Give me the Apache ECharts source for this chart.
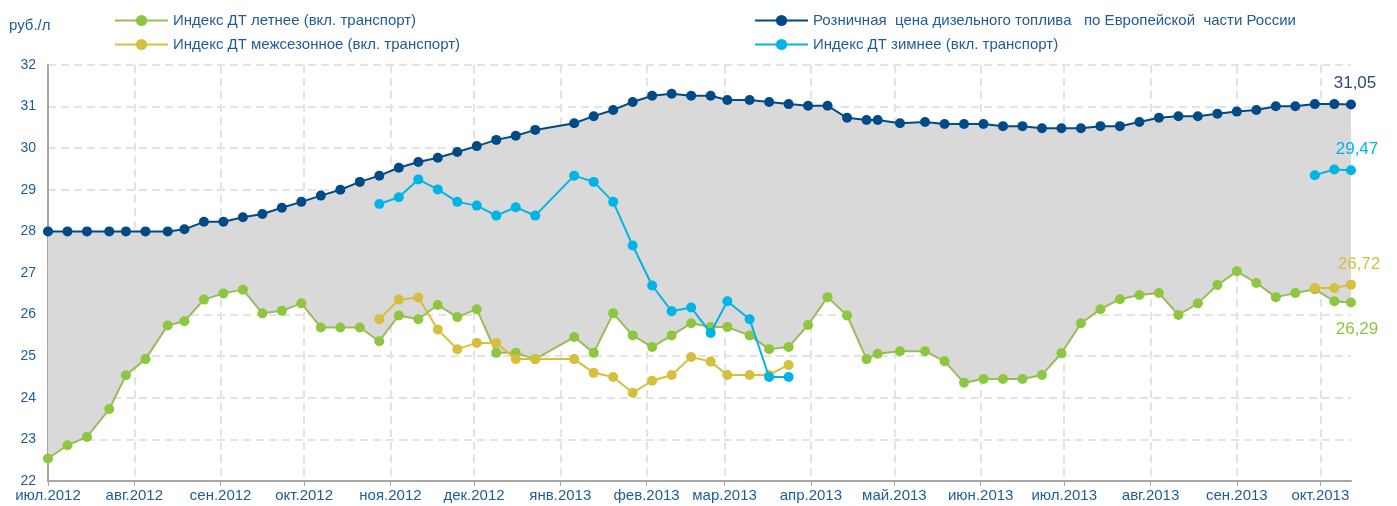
<!DOCTYPE html>
<html>
<head>
<meta charset="utf-8">
<script src="https://cdn.jsdelivr.net/npm/echarts@6/dist/echarts.min.js"></script>
<style>html,body{margin:0;padding:0;background:#fff}#c{width:1397px;height:506px}</style>
</head>
<body>
<div id="c"></div>
<script>
const dates = ['2012-07-01','2012-07-08','2012-07-15','2012-07-23','2012-07-29','2012-08-05','2012-08-13','2012-08-19','2012-08-26','2012-09-02','2012-09-09','2012-09-16','2012-09-23','2012-09-30','2012-10-07','2012-10-14','2012-10-21','2012-10-28','2012-11-04','2012-11-11','2012-11-18','2012-11-25','2012-12-02','2012-12-09','2012-12-16','2012-12-23','2013-01-06','2013-01-13','2013-01-20','2013-01-27','2013-02-03','2013-02-10','2013-02-17','2013-02-24','2013-03-02','2013-03-10','2013-03-17','2013-03-24','2013-03-31','2013-04-07','2013-04-14','2013-04-21','2013-04-25','2013-05-03','2013-05-12','2013-05-19','2013-05-26','2013-06-02','2013-06-09','2013-06-16','2013-06-23','2013-06-30','2013-07-07','2013-07-14','2013-07-21','2013-07-28','2013-08-04','2013-08-11','2013-08-18','2013-08-25','2013-09-01','2013-09-08','2013-09-15','2013-09-22','2013-09-29','2013-10-06','2013-10-12'];

const retail = [28.00,28.00,28.00,28.00,28.00,28.00,28.00,28.05,28.23,28.23,28.34,28.42,28.57,28.71,28.86,29.00,29.19,29.34,29.53,29.67,29.77,29.91,30.05,30.20,30.30,30.44,30.60,30.77,30.92,31.11,31.26,31.31,31.26,31.26,31.16,31.16,31.11,31.06,31.02,31.02,30.73,30.68,30.68,30.60,30.63,30.58,30.58,30.58,30.53,30.53,30.48,30.48,30.48,30.53,30.53,30.63,30.73,30.77,30.77,30.83,30.88,30.92,31.01,31.01,31.06,31.06,31.05];

const summer = [22.54,22.86,23.06,23.73,24.54,24.93,25.74,25.84,26.36,26.51,26.60,26.03,26.09,26.27,25.69,25.69,25.69,25.36,25.98,25.89,26.23,25.94,26.13,25.08,25.08,24.93,25.46,25.08,26.03,25.50,25.22,25.50,25.79,25.70,25.70,25.50,25.17,25.22,25.75,26.42,25.98,24.93,25.06,25.12,25.12,24.88,24.36,24.45,24.45,24.45,24.55,25.07,25.79,26.13,26.37,26.47,26.52,25.99,26.27,26.71,27.04,26.76,26.42,26.52,26.61,26.32,26.29];

const N = null;
const offseason = [N,N,N,N,N,N,N,N,N,N,N,N,N,N,N,N,N,25.89,26.36,26.41,25.64,25.17,25.32,25.32,24.93,24.93,24.93,24.60,24.50,24.12,24.41,24.55,24.98,24.87,24.55,24.55,24.55,24.79,N,N,N,N,N,N,N,N,N,N,N,N,N,N,N,N,N,N,N,N,N,N,N,N,N,N,26.64,26.64,26.72];

const winter = [N,N,N,N,N,N,N,N,N,N,N,N,N,N,N,N,N,28.66,28.82,29.25,29.01,28.71,28.62,28.38,28.58,28.38,29.34,29.19,28.71,27.66,26.70,26.08,26.17,25.56,26.32,25.89,24.50,24.50,N,N,N,N,N,N,N,N,N,N,N,N,N,N,N,N,N,N,N,N,N,N,N,N,N,N,29.35,29.49,29.47];

const monthNames = ['янв','фев','мар','апр','май','июн','июл','авг','сен','окт','ноя','дек'];
const yTicks = [22,23,24,25,26,27,28,29,30,31,32];

const names = {
  summer: 'Индекс ДТ летнее (вкл. транспорт)',
  off: 'Индекс ДТ межсезонное (вкл. транспорт)',
  retail: 'Розничная  цена дизельного топлива   по Европейской  части России',
  winter: 'Индекс ДТ зимнее (вкл. транспорт)'
};

const txt = '#1F5B98';
const fmt = v => v.toFixed(2).replace('.', ',');

function build(vals, lbl) {
  const last = vals.length - 1;
  return vals.map((v, i) => {
    if (v === null) return [dates[i], null];
    if (i === last && lbl) return { value: [dates[i], v], label: lbl };
    return [dates[i], v];
  });
}

function lineSeries(name, vals, color, lineColor, lbl, z) {
  return {
    name: name, type: 'line', data: build(vals, lbl), z: z,
    symbol: 'circle', symbolSize: 10, showSymbol: true,
    connectNulls: false,
    itemStyle: { color: color },
    lineStyle: { color: lineColor, width: 2 },
    emphasis: { disabled: true },
    animation: false
  };
}

const chart = echarts.init(document.getElementById('c'), null, { renderer: 'canvas' });
const legendText = { fontSize: 15, color: txt, fontFamily: 'Liberation Sans', lineHeight: 15 };

chart.setOption({
  animation: false,
  title: { text: 'руб./л', left: 9, top: 18, padding: 0, textStyle: { fontSize: 15, fontWeight: 'normal', color: txt, fontFamily: 'Liberation Sans' } },
  legend: [
    { orient: 'vertical', left: 114, top: 13, padding: 0, itemWidth: 53, itemHeight: 14, itemGap: 9, textStyle: legendText, data: [names.summer, names.off], selectedMode: false },
    { orient: 'vertical', left: 754, top: 13, padding: 0, itemWidth: 53, itemHeight: 14, itemGap: 9, textStyle: legendText, data: [names.retail, names.winter], selectedMode: false }
  ],
  grid: { left: 48, right: 46, top: 65, bottom: 25, containLabel: false, outerBoundsMode: 'none' },
  xAxis: {
    type: 'time', z: 0,
    min: '2012-07-01', max: '2013-10-12',
    minInterval: 28 * 86400000, maxInterval: 31 * 86400000,
    axisLine: { show: true, lineStyle: { color: '#A6A6A6', width: 2 } },
    axisTick: { show: true, length: 5, lineStyle: { color: '#A6A6A6', width: 1 } },
    axisLabel: {
      color: txt, fontSize: 15, fontFamily: 'Liberation Sans', margin: 7,
      showMaxLabel: false,
      formatter: function (val) { const d = new Date(val); return monthNames[d.getMonth()] + '.' + d.getFullYear(); }
    },
    splitLine: { show: true, showMaxLine: false, lineStyle: { color: '#E3E3E3', width: 2, type: [8, 5] } }
  },
  yAxis: {
    type: 'value', z: 0, min: yTicks[0], max: yTicks[yTicks.length - 1], interval: 1,
    axisLine: { show: true, lineStyle: { color: '#A6A6A6', width: 2 } },
    axisTick: { show: false },
    axisLabel: { color: txt, fontSize: 14, fontFamily: 'Liberation Sans', margin: 12 },
    splitLine: { show: true, lineStyle: { color: '#E3E3E3', width: 2, type: [8, 5] } }
  },
  series: [
    {
      name: 'band', type: 'custom', silent: true, z: 2,
      data: [[dates[0], retail[0]]],
      renderItem: function (params, api) {
        const pts = [];
        for (let i = 0; i < dates.length; i++) pts.push(api.coord([+new Date(dates[i]), retail[i]]));
        for (let i = dates.length - 1; i >= 0; i--) pts.push(api.coord([+new Date(dates[i]), summer[i]]));
        return { type: 'polygon', shape: { points: pts }, style: { fill: '#D9D9D9', opacity: 1 } };
      }
    },
    lineSeries(names.summer, summer, '#8DC63F', '#9BBB59',
      { show: true, position: 'bottom', distance: 13, offset: [6, 0], fontSize: 17, fontFamily: 'Liberation Sans', color: '#8DC63F', formatter: p => fmt(p.value[1]) }, 3),
    lineSeries(names.off, offseason, '#D6BF3C', '#D6BF3C',
      { show: true, position: 'top', distance: 7, offset: [8, 0], fontSize: 17, fontFamily: 'Liberation Sans', color: '#D6BF3C', formatter: p => fmt(p.value[1]) }, 4),
    lineSeries(names.winter, winter, '#00B5E5', '#00B5E5',
      { show: true, position: 'top', distance: 7, offset: [6, 0], fontSize: 17, fontFamily: 'Liberation Sans', color: '#00B5E5', formatter: p => fmt(p.value[1]) }, 5),
    lineSeries(names.retail, retail, '#004A87', '#004A87',
      { show: true, position: 'top', distance: 8, offset: [4, 0], fontSize: 17, fontFamily: 'Liberation Sans', color: '#2C4A7C', formatter: p => fmt(p.value[1]) }, 6)
  ]
});
</script>
</body>
</html>
